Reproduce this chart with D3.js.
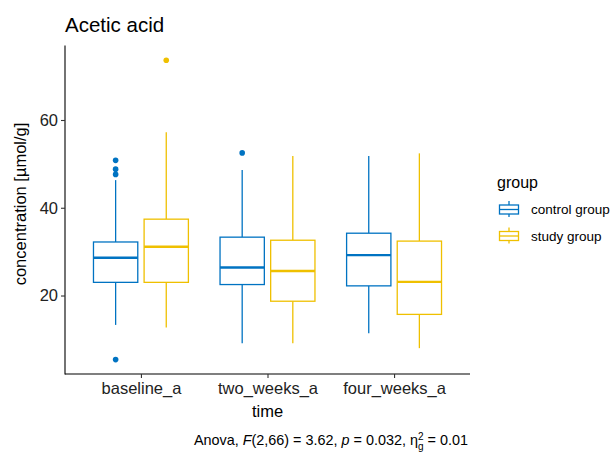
<!DOCTYPE html>
<html>
  <head>
    <meta charset="utf-8">
    <title>Acetic acid</title>
    <style>
      body{ margin:0; background:#fff; }
      svg{ display:block; font-family:"Liberation Sans", Arial, sans-serif; }
    </style>
  </head>
  <body>
    <div id="chart"></div>
  </body>
  <script src="https://cdnjs.cloudflare.com/ajax/libs/d3/7.8.5/d3.min.js"></script>
  <script>
    var times = ["baseline_a", "two_weeks_a", "four_weeks_a"]
    var groups = ["control group", "study group"]
    var colors = ["#0073C2", "#EFC000"]

    // box stats, one value per time point
    var controlLow    = [13.3, 9.1, 11.4]
    var controlQ1     = [23.0, 22.5, 22.2]
    var controlMedian = [28.6, 26.4, 29.2]
    var controlQ3     = [32.2, 33.3, 34.2]
    var controlHigh   = [46.3, 48.6, 51.8]
    var controlOut    = [[50.8, 48.8, 47.6, 5.4], [52.5], []]

    var studyLow    = [12.7, 9.1, 8.0]
    var studyQ1     = [23.0, 18.7, 15.7]
    var studyMedian = [31.1, 25.6, 23.1]
    var studyQ3     = [37.4, 32.6, 32.4]
    var studyHigh   = [57.2, 51.8, 52.4]
    var studyOut    = [[73.6], [], []]

    var yTicks = [20, 40, 60]

    var boxes = []
    times.forEach(function(t, i){
      boxes.push({time:t, ti:i, g:0, low:controlLow[i], q1:controlQ1[i], med:controlMedian[i], q3:controlQ3[i], high:controlHigh[i], out:controlOut[i]})
      boxes.push({time:t, ti:i, g:1, low:studyLow[i], q1:studyQ1[i], med:studyMedian[i], q3:studyQ3[i], high:studyHigh[i], out:studyOut[i]})
    })

    var W = 614, H = 454
    var svg = d3.select("#chart").append("svg").attr("width", W).attr("height", H)

    var x = d3.scaleLinear().domain([0.4, 3.6]).range([65, 470])
    var y = d3.scaleLinear().domain([2.0, 77.0]).range([374.5, 45.4])
    var dodge = 0.2, bw = 0.35

    // axes
    var yAxis = svg.append("g").attr("transform", "translate(65,0)")
      .call(d3.axisLeft(y).tickValues(yTicks).tickSize(4).tickPadding(3))
    var xAxis = svg.append("g").attr("transform", "translate(0,374)")
      .call(d3.axisBottom(x).tickValues([1, 2, 3]).tickFormat(function(d){ return times[d-1] }).tickSize(4).tickPadding(4))
    ;[yAxis, xAxis].forEach(function(a){
      a.select(".domain").attr("stroke", "#000").attr("stroke-width", 1.1)
      a.selectAll(".tick line").attr("stroke", "#333").attr("stroke-width", 1.1)
      a.selectAll(".tick text").attr("fill", "#222").style("font-size", "16.5px")
    })
    yAxis.select(".domain").attr("d", "M0," + y.range()[0] + "V" + y.range()[1])
    xAxis.select(".domain").attr("d", "M65,0H470")

    // boxes
    var bx = svg.append("g").selectAll("g").data(boxes).enter().append("g")
      .attr("stroke", function(d){ return colors[d.g] })
      .attr("fill", "none")
    function cx(d){ return x(d.ti + 1 + (d.g === 0 ? -dodge : dodge)) }
    var half = (x(1 + bw) - x(1)) / 2
    bx.append("line").attr("x1", cx).attr("x2", cx)
      .attr("y1", function(d){ return y(d.q3) }).attr("y2", function(d){ return y(d.high) }).attr("stroke-width", 1.3)
    bx.append("line").attr("x1", cx).attr("x2", cx)
      .attr("y1", function(d){ return y(d.q1) }).attr("y2", function(d){ return y(d.low) }).attr("stroke-width", 1.3)
    bx.append("rect")
      .attr("x", function(d){ return cx(d) - half }).attr("width", half * 2)
      .attr("y", function(d){ return y(d.q3) }).attr("height", function(d){ return y(d.q1) - y(d.q3) })
      .attr("fill", "#fff").attr("stroke-width", 1.3)
    bx.append("line")
      .attr("x1", function(d){ return cx(d) - half }).attr("x2", function(d){ return cx(d) + half })
      .attr("y1", function(d){ return y(d.med) }).attr("y2", function(d){ return y(d.med) }).attr("stroke-width", 2.4)
    bx.selectAll("circle").data(function(d){ return d.out.map(function(v){ return {v:v, d:d} }) }).enter()
      .append("circle").attr("cx", function(o){ return cx(o.d) }).attr("cy", function(o){ return y(o.v) })
      .attr("r", 2.8).attr("stroke", "none").attr("fill", function(o){ return colors[o.d.g] })

    // title and labels
    svg.append("text").attr("x", 65).attr("y", 32).style("font-size", "20.5px").attr("fill", "#000").text("Acetic acid")
    svg.append("text").attr("transform", "translate(26,204) rotate(-90)").attr("text-anchor", "middle")
      .style("font-size", "16.5px").attr("fill", "#000").text("concentration [\u00b5mol/g]")
    svg.append("text").attr("x", x(2)).attr("y", 417).attr("text-anchor", "middle")
      .style("font-size", "16.5px").attr("fill", "#000").text("time")

    // caption
    var cap = svg.append("text").attr("x", 468).attr("y", 445).attr("text-anchor", "end")
      .style("font-size", "14.4px").attr("fill", "#000")
    cap.append("tspan").text("Anova, ")
    cap.append("tspan").style("font-style", "italic").text("F")
    cap.append("tspan").text("(2,66) = 3.62, ")
    cap.append("tspan").style("font-style", "italic").text("p")
    cap.append("tspan").text(" = 0.032, \u03b7")
    cap.append("tspan").attr("dy", -5.5).style("font-size", "10px").text("2")
    cap.append("tspan").attr("dx", -5.5).attr("dy", 10).style("font-size", "10px").text("g")
    cap.append("tspan").attr("dy", -4.5).text(" = 0.01")

    // legend
    var lg = svg.append("g").attr("transform", "translate(497,0)")
    lg.append("text").attr("x", 0).attr("y", 188).style("font-size", "16px").attr("fill", "#000").text("group")
    var li = lg.selectAll("g.key").data(groups).enter().append("g").attr("class", "key")
      .attr("transform", function(d, i){ return "translate(0," + (209 + i * 26.5) + ")" })
    li.append("line").attr("x1", 12).attr("x2", 12).attr("y1", -8).attr("y2", 8)
      .attr("stroke", function(d, i){ return colors[i] }).attr("stroke-width", 1.3)
    li.append("rect").attr("x", 2.5).attr("y", -4).attr("width", 19).attr("height", 9)
      .attr("fill", "#fff").attr("stroke", function(d, i){ return colors[i] }).attr("stroke-width", 1.3)
    li.append("line").attr("x1", 2.5).attr("x2", 21.5).attr("y1", 0.5).attr("y2", 0.5)
      .attr("stroke", function(d, i){ return colors[i] }).attr("stroke-width", 1.3)
    li.append("text").attr("x", 34).attr("y", 5).style("font-size", "13.5px").attr("fill", "#000").text(function(d){ return d })
  </script>
</html>
